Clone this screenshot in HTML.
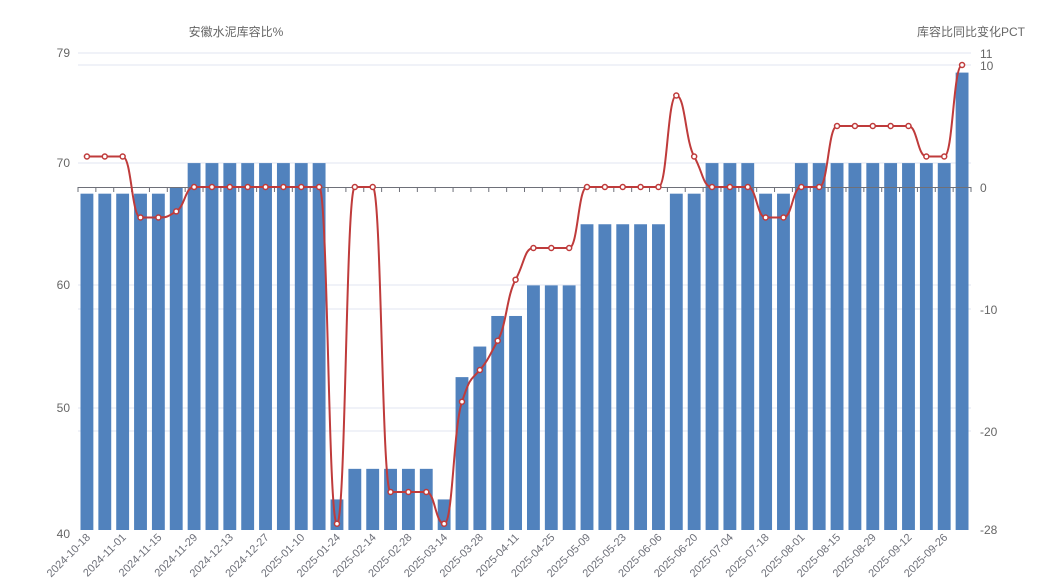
<!DOCTYPE html><html><head><meta charset="utf-8"><style>body{margin:0;background:#fff}svg{display:block;font-family:"Liberation Sans","Noto Sans CJK SC",sans-serif}</style></head><body>
<svg id="s" width="1040" height="588" xmlns="http://www.w3.org/2000/svg">
<text x="236" y="36" font-size="12" fill="#666" text-anchor="middle">安徽水泥库容比%</text>
<text x="971" y="36" font-size="12" fill="#666" text-anchor="middle">库容比同比变化PCT</text>
<g id="g"></g>
</svg>
<script>
const L=78,R=971,step=(R-L)/50;
const yl=v=>530-(v-40)*12.23, yr=v=>187-v*12.2;
const bars=[67.5,67.5,67.5,67.5,67.5,68,70,70,70,70,70,70,70,70,42.5,45,45,45,45,45,42.5,52.5,55,57.5,57.5,60,60,60,65,65,65,65,65,67.5,67.5,70,70,70,67.5,67.5,70,70,70,70,70,70,70,70,70,77.4];
const line=[2.5,2.5,2.5,-2.5,-2.5,-2,0,0,0,0,0,0,0,0,-27.6,0,0,-25,-25,-25,-27.6,-17.6,-15,-12.6,-7.6,-5,-5,-5,0,0,0,0,0,7.5,2.5,0,0,0,-2.5,-2.5,0,0,5,5,5,5,5,2.5,2.5,10];
const labels=["2024-10-18","2024-11-01","2024-11-15","2024-11-29","2024-12-13","2024-12-27","2025-01-10","2025-01-24","2025-02-14","2025-02-28","2025-03-14","2025-03-28","2025-04-11","2025-04-25","2025-05-09","2025-05-23","2025-06-06","2025-06-20","2025-07-04","2025-07-18","2025-08-01","2025-08-15","2025-08-29","2025-09-12","2025-09-26"];
let h='';
[53,65,163,285,309,408,431].forEach(y=>h+=`<line x1="${L}" x2="${R}" y1="${y}" y2="${y}" stroke="#e0e6f1"/>`);
[[79,53],[70,163],[60,285],[50,408],[40,534]].forEach(([t,y])=>h+=`<text x="70" y="${y+4}" font-size="12" fill="#666" text-anchor="end">${t}</text>`);
[[11,53],[10,65],[0,187],[-10,309],[-20,431],[-28,529]].forEach(([t,y])=>h+=`<text x="980" y="${y+5}" font-size="12" fill="#666">${t}</text>`);
bars.forEach((v,i)=>{const x=L+i*step+2.5;h+=`<rect x="${x}" y="${yl(v)}" width="${step-5}" height="${530-yl(v)}" fill="#5182bd"/>`;});
h+=`<line x1="${L}" x2="${R}" y1="187.5" y2="187.5" stroke="#6e7079"/>`;
for(let i=0;i<=50;i++){const x=L+i*step;h+=`<line x1="${x}" x2="${x}" y1="187" y2="192" stroke="#6e7079"/>`;}
labels.forEach((t,i)=>{const x=L+(2*i+0.5)*step+4;h+=`<text transform="translate(${x},538) rotate(-45)" font-size="11" fill="#6e7079" text-anchor="end">${t}</text>`;});
const P=line.map((v,i)=>[L+(i+0.5)*step,yr(v)]);
let d=`M${P[0][0]},${P[0][1]}`;
for(let i=0;i<P.length-1;i++){const p0=P[Math.max(0,i-1)],p1=P[i],p2=P[i+1],p3=P[Math.min(P.length-1,i+2)];const k=0.35;
let c1y=p1[1]+(p2[1]-p0[1])*k/2, c2y=p2[1]-(p3[1]-p1[1])*k/2;
if((p1[1]-p0[1])*(p2[1]-p1[1])<=0)c1y=p1[1]; if((p2[1]-p1[1])*(p3[1]-p2[1])<=0)c2y=p2[1];
d+=` C${p1[0]+step*0.5},${c1y} ${p2[0]-step*0.5},${c2y} ${p2[0]},${p2[1]}`;}
h+=`<path d="${d}" fill="none" stroke="#bf3b3b" stroke-width="2"/>`;
P.forEach(p=>h+=`<circle cx="${p[0]}" cy="${p[1]}" r="2.5" fill="#fff" stroke="#bf3b3b" stroke-width="1.5"/>`);
document.getElementById('g').innerHTML=h;
</script></body></html>
